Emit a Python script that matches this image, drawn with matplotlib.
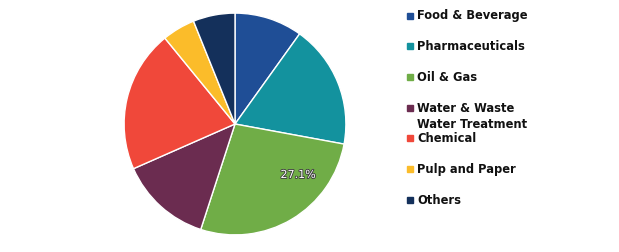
import matplotlib
matplotlib.use('Agg')
import matplotlib.pyplot as plt
import matplotlib.patheffects as pe

# Market share by end use (%)
categories = ['Food & Beverage', 'Pharmaceuticals', 'Oil & Gas',
              'Water & Waste\nWater Treatment', 'Chemical', 'Pulp and Paper', 'Others']
shares = [9.9, 18.0, 27.1, 13.4, 20.7, 4.8, 6.1]
colors = ['#1F4E96', '#13929E', '#70AD47', '#6B2C50', '#F0483A', '#FBBC2A', '#14305B']

fig = plt.figure(figsize=(6.19, 2.53), dpi=100)
ax = fig.add_axes([123 / 619, 16 / 253, 224 / 619, 224 / 253])

ax.pie(shares, colors=colors, startangle=90, counterclock=False, radius=1,
       wedgeprops=dict(edgecolor='white', linewidth=1.0))
ax.set_xlim(-1.01, 1.01)
ax.set_ylim(-1.01, 1.01)
ax.set_aspect('equal')
ax.axis('off')

# only the largest slice carries a value label
i_max = shares.index(max(shares))
ax.text(0.57, -0.46, f"{shares[i_max]:.1f}%", color='white', fontsize=8,
        ha='center', va='center',
        path_effects=[pe.withStroke(linewidth=1.2, foreground='#3a3a3a')])

# legend drawn by hand: even spacing, the two-line label runs into the next row
y0 = 16.5
step = 30.7
for i, (lab, col) in enumerate(zip(categories, colors)):
    y = y0 + i * step
    fig.patches.append(plt.Rectangle((407 / 619, 1 - (y + 3) / 253), 6 / 619, 6 / 253,
                                     transform=fig.transFigure, color=col, figure=fig))
    fig.text(417 / 619, 1 - (y - 7) / 253, lab, fontsize=8.3, fontweight='bold',
             ha='left', va='top', color='#111111', linespacing=1.35)

fig.savefig('out.png', dpi=100)
